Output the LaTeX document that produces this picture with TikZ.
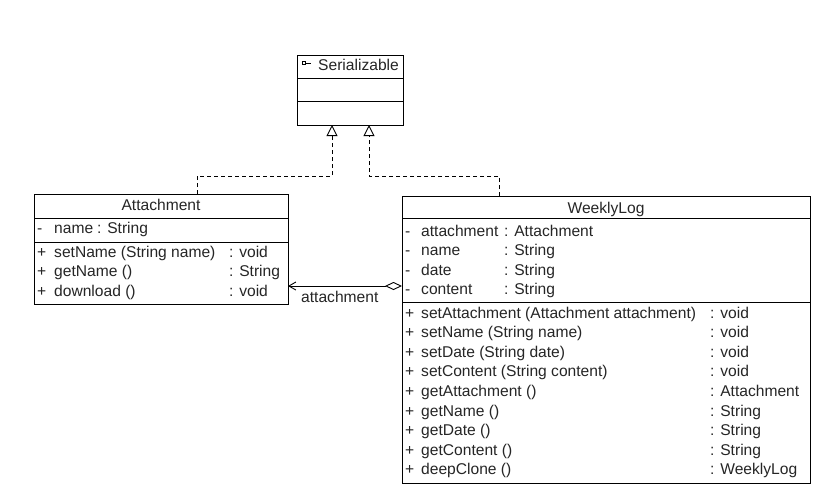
\documentclass[tikz,border=0pt]{standalone}
\usepackage{fontspec}
\setmainfont{Liberation Sans}
\usetikzlibrary{arrows.meta}
\begin{document}
\begin{tikzpicture}[x=1pt,y=-1pt,
  every node/.style={font=\fontsize{15.6}{18}\selectfont,text=black!85},
  cls/.style={draw,line width=0.9pt,rectangle,anchor=north west,inner sep=0,outer sep=0},
  txt/.style={anchor=base west,inner sep=0},
  sep/.style={line width=0.9pt},
  realize/.style={draw,line width=0.9pt,dash pattern=on 4pt off 3pt,-{Triangle[open,length=11pt,width=11pt,line width=0.9pt]}},
  assoc/.style={draw,line width=0.9pt,{Straight Barb[length=7pt,width=8pt]}-{Diamond[open,length=17pt,width=8pt]}}
]
\useasboundingbox (0,0) rectangle (840,491);
\fill[white] (0,0) rectangle (840,491);

% Serializable
\node[cls,minimum width=106pt,minimum height=70pt] (ser) at (297,55) {};
\draw[sep] (ser.west |- 0,78) -- (ser.east |- 0,78);
\draw[sep] (ser.west |- 0,101) -- (ser.east |- 0,101);
\node[txt] (sername) at (318,70) {Serializable};
\draw[line width=0.6pt] (302.5,61.5) rectangle (305.5,64.5) (305.5,63) -- (311,63);

% Attachment
\node[cls,minimum width=254pt,minimum height=110pt] (att) at (34,194) {};
\draw[sep] (att.west |- 0,218) -- (att.east |- 0,218);
\draw[sep] (att.west |- 0,242) -- (att.east |- 0,242);
\node[anchor=base,inner sep=0] (atth) at (161,210) {Attachment};
\node[txt] (aa1) at (37,233) {-};
\node[txt] (aan1) at (54,233) {name};
\node[txt] (aat1) at (97,233) {: String};
\foreach \y/\n/\t [count=\i] in {257/{setName (String name)}/void,276.5/{getName ()}/String,296/{download ()}/void}{
  \node[txt] (am\i) at (37,\y) {+};
  \node[txt] (amn\i) at (54,\y) {\n};
  \node[txt] (amt\i) at (229,\y) {: \t};
}

% WeeklyLog
\node[cls,minimum width=408pt,minimum height=287pt] (wl) at (402,196) {};
\draw[sep] (wl.west |- 0,218) -- (wl.east |- 0,218);
\draw[sep] (wl.west |- 0,302) -- (wl.east |- 0,302);
\node[anchor=base,inner sep=0] (wlh) at (606,213) {WeeklyLog};
\foreach \y/\n/\t [count=\i] in {236/attachment/Attachment,255.5/name/String,275/date/String,294.5/content/String}{
  \node[txt] (wa\i) at (405,\y) {-};
  \node[txt] (wan\i) at (421,\y) {\n};
  \node[txt] (wat\i) at (504,\y) {: \t};
}
\foreach \y/\n/\t [count=\i] in {
  318/{setAttachment (Attachment attachment)}/void,
  337.6/{setName (String name)}/void,
  357.2/{setDate (String date)}/void,
  376.8/{setContent (String content)}/void,
  396.4/{getAttachment ()}/Attachment,
  416/{getName ()}/String,
  435.6/{getDate ()}/String,
  455.2/{getContent ()}/String,
  474.8/{deepClone ()}/WeeklyLog}{
  \node[txt] (wm\i) at (405,\y) {+};
  \node[txt] (wmn\i) at (421,\y) {\n};
  \node[txt] (wmt\i) at (710,\y) {: \t};
}

% realizations
\draw[realize] ([xshift=163pt]att.north west) |- ([xshift=35pt,yshift=-51pt]ser.south west) -- ([xshift=35pt]ser.south west);
\draw[realize] ([xshift=97pt]wl.north west) |- ([xshift=72pt,yshift=-51pt]ser.south west) -- ([xshift=72pt]ser.south west);

% association
\draw[assoc] (att.east |- 0,286) -- (wl.west |- 0,286);
\node[txt] (albl) at (301,302) {attachment};
\end{tikzpicture}
\end{document}
